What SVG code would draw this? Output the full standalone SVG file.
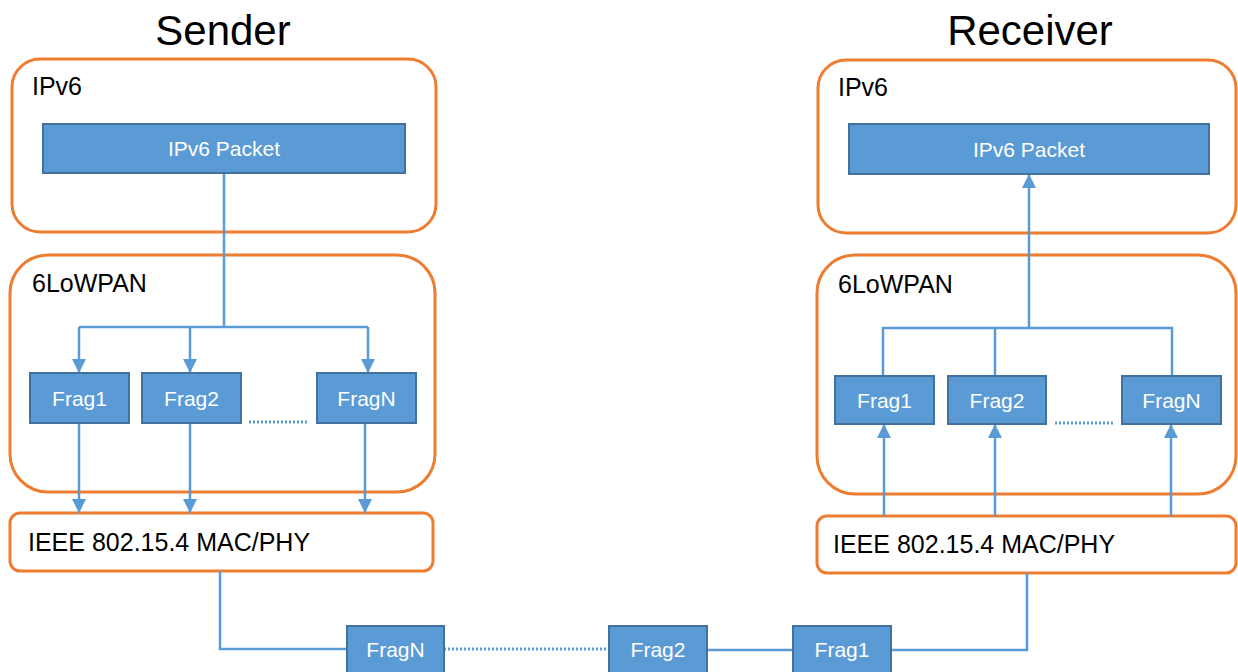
<svg xmlns="http://www.w3.org/2000/svg" width="1238" height="672" viewBox="0 0 1238 672">
<defs>
<style>
.title{font-family:"Liberation Sans",Arial,sans-serif;font-size:42px;fill:#000}
.lbl{font-family:"Liberation Sans",Arial,sans-serif;font-size:25px;fill:#000}
.cont{fill:#fff;stroke:#ED7D31;stroke-width:3}
.blk{fill:#5B9BD5;stroke:#41719C;stroke-width:2}
.bt{font-family:"Liberation Sans",Arial,sans-serif;font-size:21px;fill:#fff;text-anchor:middle}
.ln{fill:none;stroke:#5B9BD5;stroke-width:2.5}
.dot{fill:none;stroke:#5B9BD5;stroke-width:3;stroke-dasharray:2 2}
.arr{marker-end:url(#ah)}
</style>
<marker id="ah" markerUnits="userSpaceOnUse" markerWidth="14" markerHeight="14" refX="14" refY="7" orient="auto" viewBox="0 0 14 14">
<path d="M0,0 L14,7 L0,14 z" fill="#5B9BD5"/>
</marker>
</defs>
<rect width="1238" height="672" fill="#fff"/>
<text class="title" x="223" y="45" text-anchor="middle">Sender</text>
<text class="title" x="1030" y="45" text-anchor="middle">Receiver</text>

<g id="s-ipv6"><rect class="cont" x="12" y="59" width="424" height="173" rx="28"/><text class="lbl" x="32" y="95">IPv6</text></g>
<g id="s-6lowpan"><rect class="cont" x="10" y="255" width="425" height="237" rx="38"/><text class="lbl" x="32" y="292">6LoWPAN</text></g>
<g id="s-mac"><rect class="cont" x="10" y="513" width="423" height="58" rx="10"/><text class="lbl" x="28" y="551">IEEE 802.15.4 MAC/PHY</text></g>

<g id="r-ipv6"><rect class="cont" x="818" y="60" width="418" height="173" rx="28"/><text class="lbl" x="838" y="96">IPv6</text></g>
<g id="r-6lowpan"><rect class="cont" x="817" y="255" width="419" height="239" rx="38"/><text class="lbl" x="838" y="293">6LoWPAN</text></g>
<g id="r-mac"><rect class="cont" x="817" y="516" width="419" height="57" rx="10"/><text class="lbl" x="833" y="553">IEEE 802.15.4 MAC/PHY</text></g>

<g id="connectors">
<path class="ln" d="M224,173 V327 M79,327 H368"/>
<path class="ln arr" d="M79,327 V373"/>
<path class="ln arr" d="M190,327 V373"/>
<path class="ln arr" d="M368,327 V373"/>
<path class="ln arr" d="M79,423 V513"/>
<path class="ln arr" d="M190,423 V513"/>
<path class="ln arr" d="M365,423 V513"/>
<path class="dot" d="M249,422 H308"/>
<path class="ln arr" d="M1029,328 V174"/>
<path class="ln" d="M883,376 V328 H1172 V376 M995,376 V328"/>
<path class="ln arr" d="M884,516 V424"/>
<path class="ln arr" d="M995,516 V424"/>
<path class="ln arr" d="M1171,516 V424"/>
<path class="dot" d="M1055,423 H1113"/>
<path class="ln" d="M220,571 V649 H347"/>
<path class="dot" d="M444,649 H609"/>
<path class="ln" d="M707,650 H793"/>
<path class="ln" d="M891,650 H1027 V573"/>
</g>

<g id="s-packet"><rect class="blk" x="43" y="124" width="362" height="49"/><text class="bt" x="224" y="156">IPv6 Packet</text></g>
<g id="s-frag1"><rect class="blk" x="30" y="373" width="99" height="50"/><text class="bt" x="79.5" y="406">Frag1</text></g>
<g id="s-frag2"><rect class="blk" x="142" y="373" width="99" height="50"/><text class="bt" x="191.5" y="406">Frag2</text></g>
<g id="s-fragn"><rect class="blk" x="317" y="373" width="99" height="50"/><text class="bt" x="366.5" y="406">FragN</text></g>

<g id="r-packet"><rect class="blk" x="849" y="124" width="360" height="50"/><text class="bt" x="1029" y="157">IPv6 Packet</text></g>
<g id="r-frag1"><rect class="blk" x="835" y="376" width="99" height="48"/><text class="bt" x="884.5" y="408">Frag1</text></g>
<g id="r-frag2"><rect class="blk" x="948" y="376" width="98" height="48"/><text class="bt" x="997" y="408">Frag2</text></g>
<g id="r-fragn"><rect class="blk" x="1122" y="376" width="99" height="48"/><text class="bt" x="1171.5" y="408">FragN</text></g>

<g id="w-fragn"><rect class="blk" x="347" y="626" width="97" height="50"/><text class="bt" x="395.5" y="657">FragN</text></g>
<g id="w-frag2"><rect class="blk" x="609" y="626" width="98" height="50"/><text class="bt" x="658" y="657">Frag2</text></g>
<g id="w-frag1"><rect class="blk" x="793" y="626" width="98" height="50"/><text class="bt" x="842" y="657">Frag1</text></g>
</svg>
